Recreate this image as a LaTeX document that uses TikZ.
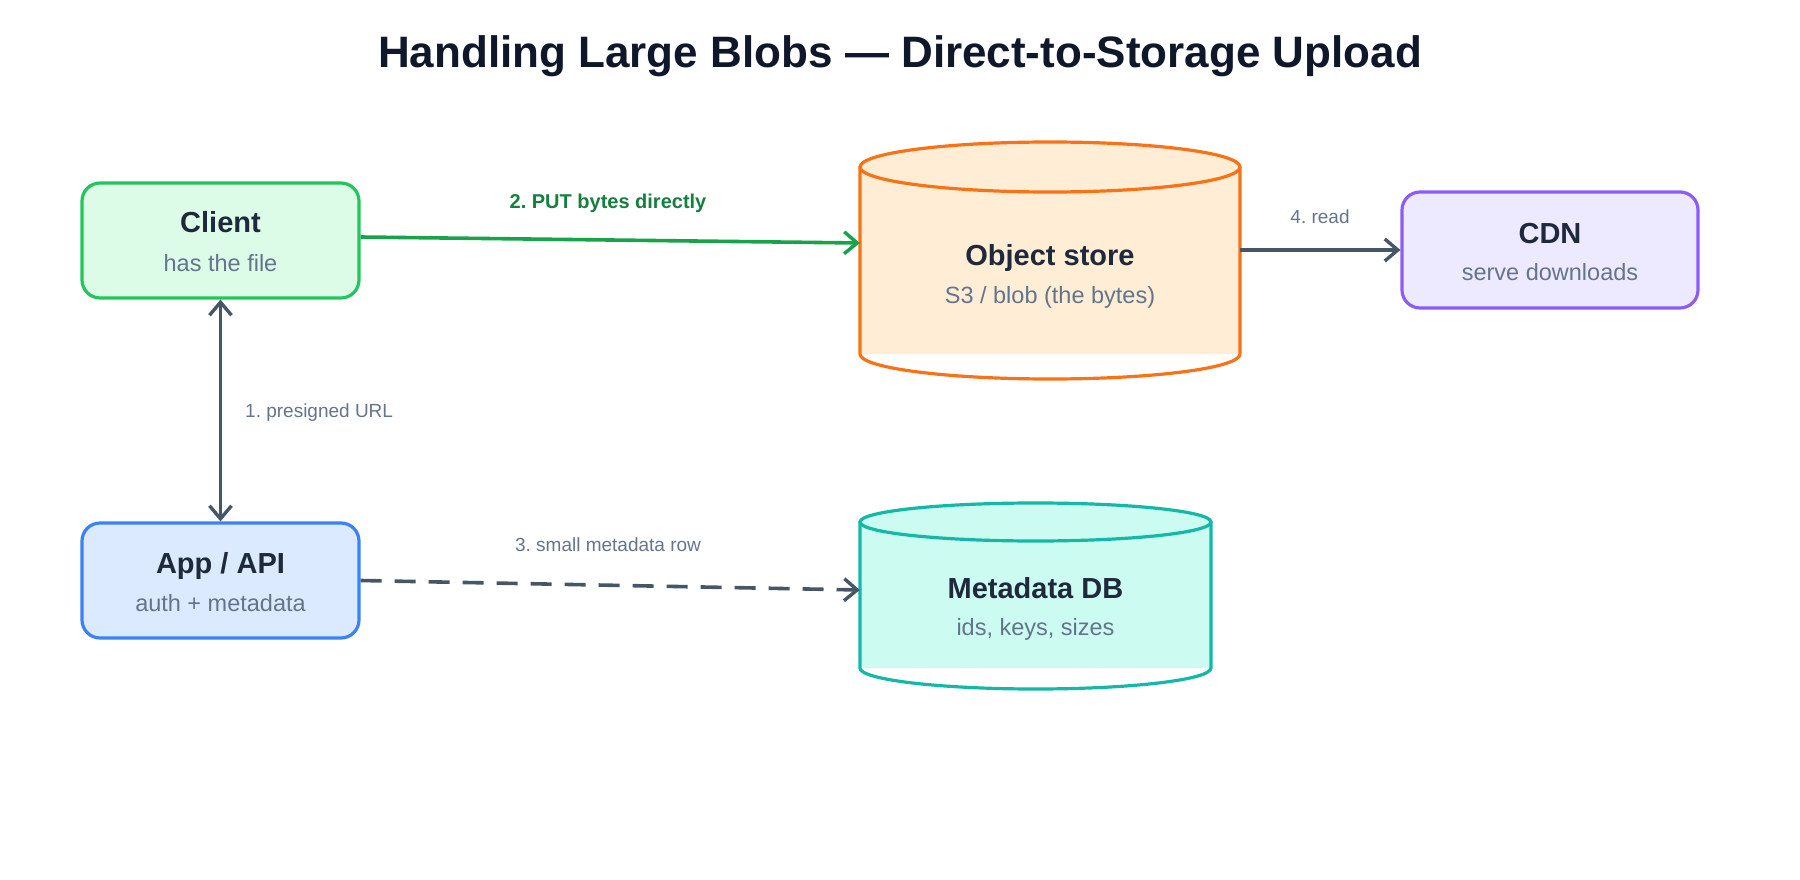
\documentclass[tikz,border=0pt]{standalone}
\usepackage{fontspec}
\setmainfont{Liberation Sans}
\frenchspacing
\usetikzlibrary{arrows.meta}
\definecolor{ink}{HTML}{1E293B}
\definecolor{titleink}{HTML}{0F172A}
\definecolor{subink}{HTML}{64748B}
\definecolor{edge}{HTML}{475569}
\definecolor{greenA}{HTML}{16A34A}
\definecolor{greenL}{HTML}{15803D}
\definecolor{cliFill}{HTML}{DCFCE7}\definecolor{cliDraw}{HTML}{22C55E}
\definecolor{appFill}{HTML}{DBEAFE}\definecolor{appDraw}{HTML}{3B82F6}
\definecolor{objFill}{HTML}{FFEDD5}\definecolor{objDraw}{HTML}{F97316}
\definecolor{cdnFill}{HTML}{EDE9FE}\definecolor{cdnDraw}{HTML}{8B5CF6}
\definecolor{dbFill}{HTML}{CCFBF1}\definecolor{dbDraw}{HTML}{14B8A6}
\tikzset{
  box/.style={rectangle, rounded corners=18pt, line width=3.2pt, inner sep=0pt},
  ttl/.style={anchor=base, text=ink, font=\fontsize{29}{33}\selectfont\bfseries, inner sep=0pt},
  sub/.style={anchor=base, text=subink, font=\fontsize{23.5}{27}\selectfont, inner sep=0pt},
  lbl/.style={anchor=base, text=subink, font=\fontsize{19}{22}\selectfont, inner sep=0pt},
  barb/.tip={Straight Barb[length=13pt,width=22pt,line width=3.4pt]},
  conn/.style={line width=3.6pt, draw=edge, arrows={-barb}},
  ghost/.style={rectangle, inner sep=0pt, draw=none}
}
\begin{document}
\begin{tikzpicture}[x=1pt,y=-1pt]
\useasboundingbox (0,0) rectangle (1800,880);
% title
\node[anchor=base, text=titleink, font=\fontsize{44}{50}\selectfont\bfseries, inner sep=0pt] (title) at (900,68) {Handling Large Blobs — Direct-to-Storage Upload};

% Client
\node[box, draw=cliDraw, fill=cliFill, minimum width=277pt, minimum height=115pt] (client) at (220.5,240.5) {};
\node[ttl] (clientT) at (220.5,233) {Client};
\node[sub] (clientS) at (220.5,271.5) {has the file};

% App / API
\node[box, draw=appDraw, fill=appFill, minimum width=277pt, minimum height=115pt] (app) at (220.5,580.5) {};
\node[ttl] (appT) at (220.5,573) {App / API};
\node[sub] (appS) at (220.5,611.5) {auth + metadata};

% CDN
\node[box, draw=cdnDraw, fill=cdnFill, minimum width=296pt, minimum height=116pt] (cdn) at (1550,250) {};
\node[ttl] (cdnT) at (1550,243) {CDN};
\node[sub] (cdnS) at (1550,280) {serve downloads};

% Object store cylinder
\fill[objFill] (860,167) rectangle (1240,354);
\draw[objDraw, line width=3.2pt, fill=objFill] (1050,167) ellipse [x radius=190, y radius=25];
\draw[objDraw, line width=3.2pt] (860,167) -- (860,354) arc[start angle=180, end angle=360, x radius=190, y radius=-25] -- (1240,167);
\node[ghost, minimum width=380pt, minimum height=187pt] (obj) at (1050,260.5) {};
\node[ttl] (objT) at (1050,265) {Object store};
\node[sub] (objS) at (1050,303) {S3 / blob (the bytes)};

% Metadata DB cylinder
\fill[dbFill] (860,522) rectangle (1211,668);
\draw[dbDraw, line width=3.2pt, fill=dbFill] (1035.5,522) ellipse [x radius=175.5, y radius=19];
\draw[dbDraw, line width=3.2pt] (860,522) -- (860,668) arc[start angle=180, end angle=360, x radius=175.5, y radius=-21] -- (1211,522);
\node[ghost, minimum width=351pt, minimum height=146pt] (mdb) at (1035.5,595) {};
\node[ttl] (mdbT) at (1035.5,598) {Metadata DB};
\node[sub] (mdbS) at (1035.5,635) {ids, keys, sizes};

% connectors
\draw[conn, arrows={barb-barb}] (client.south) -- (app.north);
\node[lbl, anchor=base west] (l1) at (245,417) {1. presigned URL};

\draw[conn, draw=greenA, color=greenA] ([yshift=3.5pt]client.east) -- ([yshift=17.5pt]obj.west);
\node[lbl, text=greenL, font=\fontsize{20}{23}\selectfont\bfseries] (l2) at (608,208) {2. PUT bytes directly};

\draw[conn, dash pattern=on 21pt off 13pt] (app.east) -- ([yshift=5pt]mdb.west);
\node[lbl] (l3) at (608,551) {3. small metadata row};

\draw[conn] ([yshift=10.5pt]obj.east) -- (cdn.west);
\node[lbl] (l4) at (1320,223) {4. read};
\end{tikzpicture}
\end{document}
